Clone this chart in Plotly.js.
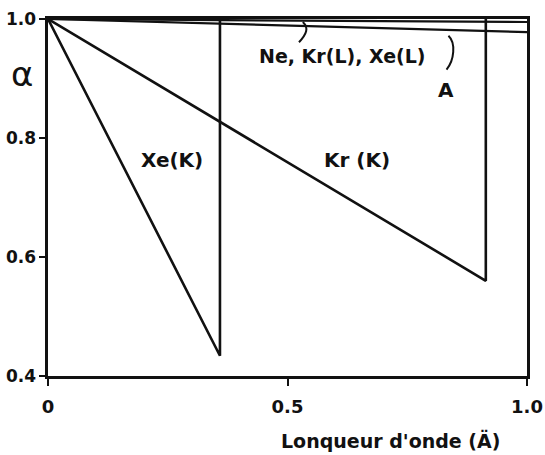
<!DOCTYPE html>
<html>
<head>
<meta charset="utf-8">
<script src="https://cdn.plot.ly/plotly-3.0.1.min.js"></script>
<style>
  html, body { margin: 0; padding: 0; background: #fff; }
  #chart { width: 545px; height: 455px; }
</style>
</head>
<body>
<div id="chart"></div>
<script>
// Transmission alpha versus wavelength (Angstrom) for the filling gases
const xeKX = [0, 0.359, 0.359];
const xeKY = [1.0, 0.434, 1.0];
const krKX = [0, 0.914, 0.914];
const krKY = [1.0, 0.56, 1.0];
const neX = [0, 1.0];
const neY = [1.0, 0.995];
const arX = [0, 1.0];
const arY = [1.0, 0.978];

const xTickVals = [0, 0.5, 1.0];
const xTickText = ['0', '0.5', '1.0'];
const yTickVals = [0.4, 0.6, 0.8, 1.0];
const yTickText = ['0.4', '0.6', '0.8', '1.0'];

const FONT = 'DejaVu Sans, sans-serif';
const ink = '#111';

const line = { color: ink, width: 2.6 };
const traces = [
  { x: xeKX, y: xeKY, mode: 'lines', line: line, hoverinfo: 'skip' },
  { x: krKX, y: krKY, mode: 'lines', line: line, hoverinfo: 'skip' },
  { x: neX, y: neY, mode: 'lines', line: { color: ink, width: 2.2 }, hoverinfo: 'skip' },
  { x: arX, y: arY, mode: 'lines', line: { color: ink, width: 2.2 }, hoverinfo: 'skip' }
];

const txt = (text, x, y, size, ref, weight) => ({
  text: text, x: x, y: y, xref: ref || 'x', yref: ref || 'y',
  showarrow: false, xanchor: 'center', yanchor: 'middle',
  font: { family: FONT, size: size, color: ink, weight: weight || 'bold' }
});

const layout = {
  width: 545, height: 455,
  margin: { l: 48, r: 18, t: 19, b: 79 },
  paper_bgcolor: '#fff', plot_bgcolor: '#fff',
  showlegend: false,
  xaxis: {
    range: [0, 1.0], tickvals: xTickVals, ticktext: xTickText,
    ticks: 'outside', ticklen: 7, tickwidth: 2, tickcolor: ink,
    ticklabelstandoff: 6,
    showline: true, linewidth: 2.6, linecolor: ink, mirror: true,
    showgrid: false, zeroline: false,
    tickfont: { family: FONT, size: 18, color: ink, weight: 'bold' }
  },
  yaxis: {
    range: [0.4, 1.0], tickvals: yTickVals, ticktext: yTickText,
    ticks: 'outside', ticklen: 6, tickwidth: 2, tickcolor: ink,
    showline: true, linewidth: 2.6, linecolor: ink, mirror: true,
    showgrid: false, zeroline: false,
    tickfont: { family: FONT, size: 17, color: ink, weight: 'bold' }
  },
  annotations: [
    txt('α', -0.054, 0.845, 34, 'paper', 'normal'),
    txt('Lonqueur d\'onde (Ä)', 0.716, -0.182, 19, 'paper'),
    txt('Xe(K)', 0.259, 0.763, 20),
    txt('Kr (K)', 0.645, 0.763, 20),
    txt('Ne, Kr(L), Xe(L)', 0.615, 0.938, 19),
    txt('A', 0.831, 0.880, 20)
  ],
  shapes: [
    // curved leaders from the labels to their lines
    { type: 'path', xref: 'x', yref: 'y',
      path: 'M 0.532 0.995 C 0.545 0.985, 0.540 0.975, 0.524 0.961',
      line: { color: ink, width: 2 } },
    { type: 'path', xref: 'x', yref: 'y',
      path: 'M 0.836 0.972 C 0.852 0.960, 0.848 0.930, 0.832 0.915',
      line: { color: ink, width: 2 } }
  ]
};

Plotly.newPlot('chart', traces, layout, { staticPlot: true, displayModeBar: false });
</script>
</body>
</html>
